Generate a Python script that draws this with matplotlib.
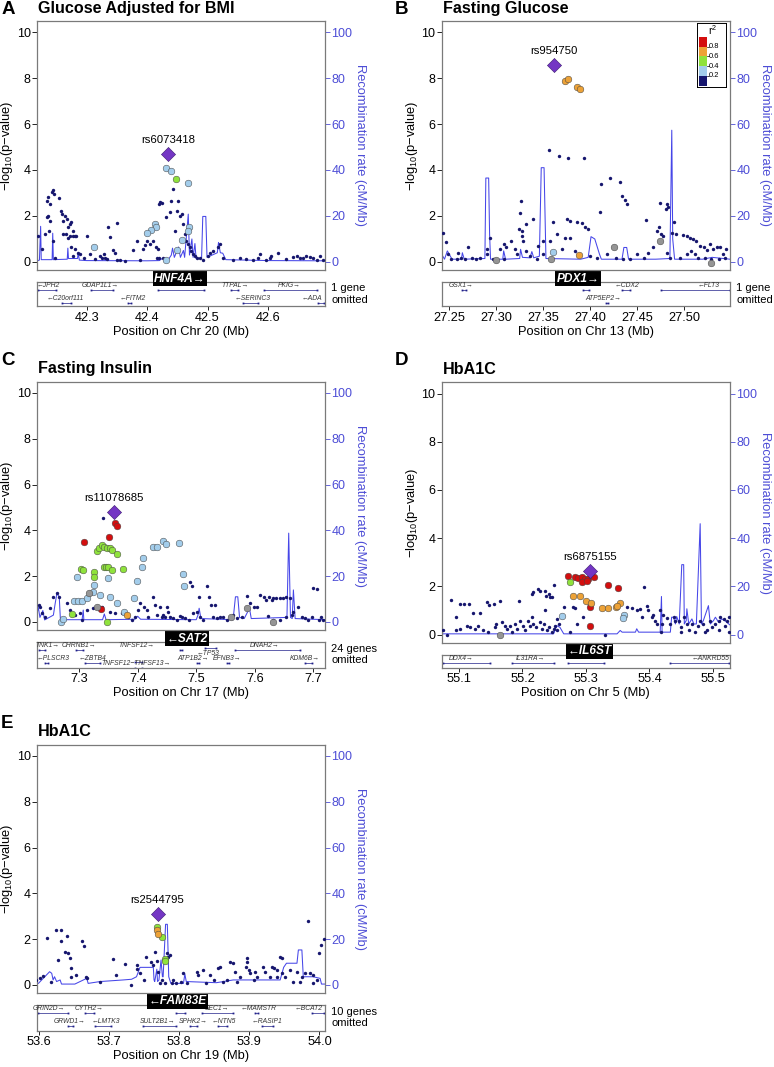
import matplotlib
matplotlib.use('Agg')
import matplotlib.pyplot as plt
import numpy as np

# ── data ────────────────────────────────────────────────────────────────────
# background SNPs (position Mb, -log10 p), r2 < 0.2
A_snps = [(42.219,1.14),(42.226,0.55),(42.231,1.21),(42.234,1.94),(42.235,2.67),(42.237,2.81),(42.240,2.52),(42.242,3.03),(42.245,3.13),(42.246,2.96),
          (42.237,2.01),(42.240,1.79),(42.238,1.36),(42.244,0.92),(42.248,0.19),(42.255,2.77),(42.257,2.20),(42.259,2.08),(42.261,1.79),(42.264,2.01),
          (42.267,1.87),(42.270,1.50),(42.272,1.65),(42.275,1.72),(42.277,1.36),(42.261,1.21),(42.266,1.21),(42.270,1.03),(42.272,1.14),(42.278,1.12),
          (42.281,1.12),(42.283,1.12),(42.274,0.63),(42.281,0.55),(42.286,0.41),(42.289,0.34),(42.278,0.26),(42.295,0.19),(42.301,1.12),(42.306,0.34),
          (42.314,0.12),(42.322,0.26),(42.325,0.19),(42.328,0.34),(42.330,0.19),(42.333,0.12),(42.336,1.50),(42.339,1.09),(42.344,0.51),(42.347,0.41),
          (42.350,0.07),(42.351,1.69),(42.355,0.07),(42.363,0.04),(42.377,0.51),(42.383,0.92),(42.388,0.07),(42.394,0.55),(42.396,0.74),(42.399,0.92),
          (42.405,0.77),(42.410,0.92),(42.414,0.63),(42.418,0.55),(42.421,2.61),(42.424,2.57),(42.419,2.52),(42.416,0.19),(42.420,0.19),(42.427,0.19),
          (42.432,1.94),(42.438,2.16),(42.440,2.67),(42.443,3.18),(42.446,1.36),(42.449,2.23),(42.451,2.67),(42.454,2.01),(42.457,2.08),(42.460,1.65),
          (42.462,1.21),(42.465,0.92),(42.468,0.77),(42.471,0.63),(42.473,0.48),(42.476,0.34),(42.479,0.26),(42.482,0.19),(42.487,0.19),(42.493,0.07),
          (42.501,0.26),(42.504,0.41),(42.509,0.48),(42.517,0.63),(42.520,0.80),(42.526,0.19),(42.542,0.07),(42.553,0.19),(42.564,0.12),(42.575,0.07),
          (42.583,0.19),(42.586,0.34),(42.597,0.07),(42.603,0.19),(42.605,0.26),(42.616,0.41),(42.630,0.12),(42.641,0.22),(42.647,0.26),(42.652,0.19),
          (42.658,0.19),(42.663,0.26),(42.669,0.22),(42.674,0.19),(42.680,0.07),(42.685,0.26),(42.691,0.07)]
# LD-coloured SNPs (position, -log10 p, r2 class; -1 = no LD info)
A_ld = [(42.432,4.10,0.3),(42.439,3.95,0.3),(42.468,3.45,0.3),(42.447,3.59,0.5),(42.413,1.65,0.3),(42.415,1.50,0.3),(42.406,1.38,0.3),
        (42.399,1.25,0.3),(42.469,1.50,0.3),(42.468,1.36,0.3),(42.457,0.96,0.3),(42.449,0.52,0.3),(42.432,0.07,0.3),(42.312,0.63,0.3)]
A_lead = (42.435, 4.71, 'rs6073418')
A_rec = [(42.218,0.5),(42.222,0.8),(42.224,15.5),(42.225,1.0),(42.243,1.0),(42.244,12.5),(42.245,1.0),(42.268,1.2),(42.269,6.0),(42.270,1.5),
         (42.285,1.5),(42.286,4.0),(42.288,0.8),(42.300,0.6),(42.400,0.5),(42.420,0.6),(42.425,1.5),(42.435,1.0),(42.440,3.0),(42.442,6.0),
         (42.445,2.0),(42.452,6.5),(42.455,2.0),(42.460,5.0),(42.462,2.0),(42.468,20.8),(42.470,3.0),(42.474,10.0),(42.476,2.0),(42.479,8.0),
         (42.481,1.5),(42.490,1.5),(42.492,19.8),(42.497,19.8),(42.499,2.0),(42.516,4.0),(42.518,8.5),(42.521,4.0),(42.525,3.8),(42.530,1.0),
         (42.600,0.6),(42.694,0.5)]
# genes: name, start, end, strand, label centre, label row, gene row
A_genes = [('JPH2',42.219,42.250,-1,42.237,0,0),('GDAP1L1',42.308,42.344,1,42.322,0,0),('TTPAL',42.539,42.550,1,42.545,0,0),
           ('PKIG',42.594,42.680,1,42.635,0,0),('C20orf111',42.259,42.274,-1,42.265,1,1),('FITM2',42.369,42.374,-1,42.377,1,1),
           ('SERINC3',42.559,42.583,-1,42.575,1,1),('ADA',42.682,42.692,-1,42.672,1,1)]
A_focus = ('HNF4A',42.418,42.494,1,42.454)

B_snps = [(27.356,4.85),(27.367,4.61),(27.377,4.50),(27.393,4.50),(27.412,3.40),(27.421,3.64),(27.432,3.47),(27.434,2.89),(27.437,2.70),(27.439,2.52),
          (27.411,2.16),(27.460,1.84),(27.474,2.55),(27.482,2.52),(27.481,2.30),(27.483,2.41),(27.326,2.67),(27.325,2.11),(27.361,1.72),(27.375,1.87),
          (27.379,1.79),(27.386,1.72),(27.391,1.68),(27.395,1.50),(27.398,1.43),(27.365,1.21),(27.373,1.06),(27.379,1.03),(27.339,1.87),(27.332,1.65),
          (27.327,1.36),(27.328,1.14),(27.329,0.92),(27.324,1.43),(27.293,1.06),(27.290,0.55),(27.270,0.67),(27.259,0.41),(27.247,0.86),(27.243,1.28),
          (27.258,0.12),(27.263,0.19),(27.279,0.12),(27.290,0.34),(27.304,0.55),(27.308,0.77),(27.311,0.63),(27.316,0.92),(27.320,0.55),(27.322,0.34),
          (27.332,0.48),(27.336,0.26),(27.343,0.12),(27.350,0.34),(27.345,0.70),(27.350,0.92),(27.357,0.92),(27.370,0.55),(27.384,0.48),(27.400,0.26),
          (27.407,0.19),(27.418,0.34),(27.428,0.19),(27.435,0.12),(27.442,0.12),(27.450,0.34),(27.457,0.19),(27.462,0.41),(27.467,0.63),(27.471,1.36),
          (27.473,1.50),(27.475,1.21),(27.478,1.14),(27.487,1.28),(27.489,1.72),(27.492,1.21),(27.499,1.18),(27.503,1.14),(27.506,1.06),(27.510,0.99),
          (27.513,0.92),(27.517,0.70),(27.521,0.63),(27.524,0.51),(27.528,0.77),(27.531,0.55),(27.535,0.63),(27.538,0.66),(27.542,0.34),(27.545,0.55),
          (27.512,0.34),(27.515,0.19),(27.522,0.19),(27.529,0.12),(27.537,0.12),(27.544,0.19),(27.482,0.41),(27.485,0.19),(27.496,0.19),(27.503,0.34),
          (27.508,0.48),(27.249,0.34),(27.252,0.12),(27.267,0.12),(27.274,0.19),(27.283,0.16),(27.297,0.12),(27.308,0.12)]
B_ld = [(27.373,7.87,0.7),(27.377,7.94,0.7),(27.386,7.62,0.7),(27.389,7.51,0.7),(27.388,0.31,0.7),(27.361,0.45,0.3),
        (27.300,0.07,-1),(27.358,0.12,-1),(27.425,0.66,-1),(27.474,0.92,-1),(27.529,-0.03,-1)]
B_lead = (27.362, 8.56, 'rs954750')
B_rec = [(27.242,1.0),(27.243,2.6),(27.245,1.2),(27.248,4.8),(27.253,1.2),(27.263,1.2),(27.264,4.0),(27.266,1.2),(27.288,1.5),(27.289,36.5),
         (27.292,36.5),(27.293,12.0),(27.294,1.2),(27.307,1.2),(27.308,4.8),(27.310,1.2),(27.325,1.5),(27.326,5.5),(27.328,2.0),(27.336,1.8),
         (27.338,4.5),(27.340,1.8),(27.346,2.5),(27.348,41.0),(27.351,41.0),(27.353,1.5),(27.390,1.2),(27.398,2.0),(27.401,11.0),(27.405,10.0),
         (27.410,3.4),(27.412,1.2),(27.434,1.2),(27.436,6.3),(27.439,6.3),(27.441,1.2),(27.470,1.2),(27.485,1.5),(27.487,57.3),(27.488,10.0),
         (27.490,1.2),(27.520,1.2),(27.530,2.0),(27.549,1.2)]
B_genes = [('GSX1',27.264,27.268,1,27.263,0,0),('CDX2',27.434,27.442,-1,27.439,0,0),('FLT3',27.476,27.549,-1,27.526,0,0),
           ('ATP5EP2',27.417,27.419,1,27.414,1,1)]
B_focus = ('PDX1',27.392,27.399,1,27.387)

C_snps = [(7.340,4.56),(7.231,0.74),(7.233,0.67),(7.237,0.38),(7.242,0.23),(7.250,0.60),(7.256,1.11),(7.262,1.25),(7.265,1.11),(7.279,0.82),
          (7.285,0.52),(7.293,0.31),(7.302,0.38),(7.305,0.09),(7.313,0.52),(7.324,0.60),(7.336,0.52),(7.339,0.67),(7.353,0.45),(7.361,0.38),
          (7.373,0.38),(7.384,0.23),(7.390,0.09),(7.396,0.23),(7.401,0.52),(7.404,0.82),(7.410,0.67),(7.416,0.52),(7.418,0.23),(7.427,1.11),
          (7.430,0.74),(7.433,0.31),(7.438,0.67),(7.441,0.23),(7.444,0.31),(7.447,0.23),(7.450,0.67),(7.452,0.45),(7.455,0.23),(7.461,0.16),
          (7.467,0.09),(7.472,0.26),(7.475,0.23),(7.481,0.16),(7.487,0.09),(7.489,1.76),(7.492,1.55),(7.495,0.38),(7.501,0.45),(7.504,1.11),
          (7.507,0.23),(7.512,0.09),(7.519,1.57),(7.522,1.11),(7.525,0.74),(7.529,0.23),(7.532,0.74),(7.535,0.16),(7.541,0.23),(7.546,0.23),
          (7.552,0.09),(7.563,0.31),(7.569,0.16),(7.578,0.23),(7.587,1.15),(7.592,0.82),(7.598,0.67),(7.603,0.67),(7.609,1.18),(7.615,1.11),
          (7.620,0.96),(7.625,1.11),(7.629,0.96),(7.632,1.03),(7.637,1.06),(7.643,1.06),(7.649,1.06),(7.654,1.11),(7.660,1.03),(7.623,0.26),
          (7.632,0.09),(7.643,0.09),(7.654,0.23),(7.663,0.31),(7.666,0.45),(7.674,0.67),(7.680,0.23),(7.686,0.16),(7.691,0.09),(7.697,0.20),
          (7.700,1.47),(7.706,1.43),(7.709,0.09),(7.714,0.23),(7.717,0.09)]
C_ld = [(7.361,4.34,0.9),(7.365,4.21,0.9),(7.351,3.73,0.9),(7.309,3.48,0.9),(7.338,0.55,0.9),
        (7.330,3.10,0.5),(7.334,3.22,0.5),(7.339,3.37,0.5),(7.343,3.29,0.5),(7.347,3.22,0.5),(7.353,3.22,0.5),(7.356,3.15,0.5),
        (7.364,2.96,0.5),(7.303,2.30,0.5),(7.307,2.27,0.5),(7.326,2.20,0.5),(7.326,1.98,0.5),(7.342,2.42,0.5),(7.346,2.42,0.5),
        (7.350,2.39,0.5),(7.356,2.27,0.5),(7.375,2.30,0.5),(7.287,0.34,0.5),(7.348,0.01,0.5),
        (7.296,1.98,0.3),(7.291,0.92,0.3),(7.298,0.92,0.3),(7.305,0.92,0.3),(7.313,1.03,0.3),(7.323,1.33,0.3),(7.326,1.62,0.3),
        (7.336,1.18,0.3),(7.352,1.11,0.3),(7.349,1.91,0.3),(7.364,0.82,0.3),(7.376,0.45,0.3),(7.269,0.01,0.3),(7.273,0.15,0.3),
        (7.393,1.03,0.3),(7.398,1.81,0.3),(7.407,2.42,0.3),(7.409,2.81,0.3),(7.427,3.29,0.3),(7.433,3.29,0.3),(7.444,3.54,0.3),
        (7.448,3.40,0.3),(7.470,3.44,0.3),(7.478,2.10,0.3),(7.479,1.57,0.3),
        (7.316,1.25,-1),(7.330,0.67,-1),(7.559,0.20,-1),(7.587,0.60,-1),(7.631,0.01,-1),(7.381,0.31,0.7)]
C_lead = (7.359, 4.80, 'rs11078685')
C_rec = [(7.228,3.0),(7.230,6.7),(7.233,2.0),(7.238,5.0),(7.241,0.9),(7.256,3.0),(7.259,8.0),(7.262,12.5),(7.266,11.0),(7.268,1.0),
         (7.305,1.0),(7.307,5.2),(7.308,1.0),(7.340,1.0),(7.343,3.5),(7.346,1.0),(7.395,1.2),(7.400,2.5),(7.405,1.2),(7.500,1.0),
         (7.503,3.0),(7.505,6.0),(7.508,1.5),(7.563,1.0),(7.567,11.0),(7.571,11.0),(7.574,2.0),(7.582,1.5),(7.591,6.0),(7.594,1.5),
         (7.655,2.0),(7.658,38.8),(7.661,2.0),(7.664,1.5),(7.666,14.0),(7.669,1.5),(7.720,1.0)]
C_genes = [('TNK1',7.232,7.241,1,7.245,0,0),('CHRNB1',7.295,7.307,1,7.300,0,0),('TNFSF12',7.396,7.407,1,7.398,0,0.9),
           ('TP53',7.515,7.534,-1,7.521,0.6,-0.1),('DNAH2',7.566,7.677,1,7.617,0,0),('PLSCR3',7.242,7.247,-1,7.256,1,1),
           ('ZBTB4',7.310,7.336,-1,7.322,1,1),('TNFSF12\u2212TNFSF13',7.396,7.407,1,7.397,1.35,1.35),('ATP1B2',7.501,7.505,1,7.495,1,1),
           ('EFNB3',7.552,7.556,1,7.552,1,1),('KDM6B',7.686,7.697,1,7.686,1,1)]
C_focus = ('SAT2',7.472,7.475,-1,7.484)

D_snps = [(55.088,1.44),(55.095,0.72),(55.101,1.25),(55.108,1.27),(55.115,1.27),(55.122,0.89),(55.133,0.89),(55.144,1.34),(55.148,1.23),(55.155,1.27),
          (55.164,1.39),(55.194,1.39),(55.215,1.69),(55.216,1.76),(55.224,1.90),(55.228,1.79),(55.236,1.80),(55.237,1.62),(55.241,1.69),(55.244,1.55),
          (55.246,1.55),(55.249,2.04),(55.265,1.14),(55.279,1.16),(55.283,1.11),(55.296,0.72),(55.286,0.44),(55.215,0.72),(55.235,1.00),(55.254,0.65),
          (55.075,0.17),(55.081,0.00),(55.096,0.17),(55.102,0.24),(55.112,0.37),(55.117,0.30),(55.125,0.24),(55.130,0.37),(55.138,0.17),(55.146,0.10),
          (55.157,0.30),(55.159,0.44),(55.167,0.51),(55.173,0.37),(55.175,0.24),(55.180,0.37),(55.183,0.10),(55.188,0.44),(55.191,0.24),(55.196,0.58),
          (55.201,0.37),(55.204,0.17),(55.209,0.58),(55.212,0.37),(55.217,0.44),(55.222,0.30),(55.228,0.51),(55.230,0.24),(55.234,0.44),(55.238,0.17),
          (55.242,0.30),(55.246,0.10),(55.249,0.24),(55.252,0.37),(55.254,0.17),(55.257,0.44),(55.275,0.10),(55.330,0.00),
          (55.364,1.14),(55.372,1.11),(55.380,1.00),(55.385,1.07),(55.388,0.72),(55.396,1.20),(55.398,1.02),(55.391,1.99),(55.404,0.72),(55.406,0.83),
          (55.409,0.58),(55.412,0.44),(55.416,1.00),(55.420,0.44),(55.422,0.83),(55.427,0.69),(55.433,0.44),(55.438,0.72),(55.441,0.58),(55.446,0.58),
          (55.450,0.30),(55.454,0.72),(55.459,0.44),(55.462,0.17),(55.467,0.44),(55.472,0.10),(55.477,0.37),(55.480,0.58),(55.485,0.44),(55.491,0.17),
          (55.496,0.58),(55.498,0.30),(55.504,0.44),(55.509,0.55),(55.512,0.72),(55.517,0.65),(55.519,0.37),(55.522,0.58),(55.525,0.72),(55.526,0.10),
          (55.509,0.17),(55.488,0.10),(55.449,0.10),(55.418,0.10)]
D_ld = [(55.271,2.42,0.9),(55.283,2.38,0.9),(55.288,2.35,0.9),(55.293,2.38,0.9),(55.299,2.31,0.9),(55.304,2.31,0.9),(55.312,2.38,0.9),
        (55.293,2.17,0.9),(55.301,2.22,0.9),(55.335,2.04,0.9),(55.350,1.94,0.9),(55.306,1.14,0.9),(55.306,0.37,0.9),(55.275,2.17,0.5),
        (55.279,1.62,0.7),(55.291,1.58,0.7),(55.300,1.41,0.7),(55.308,1.30,0.7),(55.325,1.09,0.7),(55.335,1.11,0.7),(55.348,1.14,0.7),
        (55.354,1.30,0.7),(55.349,1.20,0.7),(55.263,0.75,0.3),(55.360,0.82,0.3),(55.359,0.69,0.3),(55.164,0.00,-1)]
D_lead = (55.307, 2.63, 'rs6875155')
D_rec = [(55.073,0.3),(55.249,0.3),(55.254,3.7),(55.259,3.0),(55.265,0.3),(55.349,0.3),(55.354,1.7),(55.357,1.0),(55.378,1.0),(55.380,2.4),
         (55.383,1.0),(55.417,1.0),(55.419,15.8),(55.420,1.0),(55.433,1.0),(55.435,7.2),(55.438,7.2),(55.441,4.4),(55.443,7.5),(55.447,4.4),
         (55.451,29.0),(55.454,29.0),(55.455,4.4),(55.458,5.8),(55.459,10.7),(55.462,4.4),(55.467,6.5),(55.470,4.4),(55.474,4.4),(55.480,46.0),
         (55.482,4.4),(55.485,5.8),(55.493,12.0),(55.496,4.4),(55.501,5.8),(55.504,7.2),(55.509,5.1),(55.514,6.5),(55.519,5.8),(55.525,4.4),(55.527,4.0)]
D_genes = [('DDX4',55.075,55.149,1,55.104,0,0),('IL31RA',55.183,55.249,1,55.212,0,0),('ANKRD55',55.433,55.525,-1,55.496,0,0)]
D_focus = ('IL6ST',55.272,55.328,-1,55.306)

E_snps = [(53.596,0.22),(53.601,0.29),(53.606,0.39),(53.611,2.04),(53.617,0.15),(53.624,2.41),(53.631,2.41),(53.631,1.92),(53.627,1.09),(53.637,1.46),
          (53.640,2.16),(53.641,1.38),(53.644,1.17),(53.646,0.73),(53.645,0.36),(53.653,0.44),(53.661,1.94),(53.664,1.71),(53.667,0.36),(53.669,0.29),
          (53.687,0.15),(53.706,1.12),(53.710,0.44),(53.722,0.90),(53.731,0.00),(53.739,0.87),(53.740,0.69),(53.744,0.51),(53.749,0.22),(53.753,1.24),
          (53.759,1.02),(53.763,0.87),(53.765,1.46),(53.768,1.06),(53.770,0.58),(53.772,0.07),(53.776,0.22),(53.780,0.07),(53.782,1.38),(53.784,1.24),
          (53.787,1.31),(53.789,0.07),(53.791,0.22),(53.796,0.10),(53.803,0.15),(53.806,0.51),(53.811,0.07),(53.825,0.58),(53.827,0.44),(53.834,0.66),
          (53.838,0.07),(53.844,0.44),(53.849,0.22),(53.856,0.73),(53.858,0.80),(53.863,0.15),(53.868,0.22),(53.873,1.02),(53.877,0.98),(53.880,0.58),
          (53.882,0.15),(53.887,0.36),(53.896,1.17),(53.897,1.02),(53.895,0.80),(53.899,0.66),(53.901,0.51),(53.906,0.22),(53.908,0.58),(53.911,0.36),
          (53.920,0.80),(53.922,0.58),(53.930,0.36),(53.932,0.80),(53.935,0.73),(53.939,0.66),(53.940,0.36),(53.944,1.24),(53.946,1.17),(53.946,0.51),
          (53.951,0.36),(53.958,0.66),(53.963,0.15),(53.968,0.58),(53.972,0.15),(53.975,0.36),(53.980,0.51),(53.984,2.81),(53.987,0.51),(53.991,0.44),
          (53.999,1.38),(54.002,1.75),(54.006,2.00),(53.991,0.07),(53.996,0.22)]
E_ld = [(53.768,2.52,0.5),(53.775,2.08,0.5),(53.780,1.12,0.5),(53.780,1.05,0.5),(53.768,2.38,0.7),(53.769,2.23,0.7)]
E_lead = (53.769, 3.10, 'rs2544795')
E_rec = [(53.597,0.7),(53.599,0.7),(53.615,5.8),(53.618,5.1),(53.620,2.2),(53.622,3.6),(53.625,1.5),(53.630,2.2),(53.632,0.4),(53.651,0.4),
         (53.668,2.9),(53.670,0.7),(53.687,1.5),(53.720,2.2),(53.732,2.5),(53.739,3.6),(53.744,7.7),(53.763,7.7),(53.764,2.2),(53.765,1.5),
         (53.768,6.9),(53.769,1.5),(53.771,2.2),(53.774,10.9),(53.776,3.6),(53.777,3.6),(53.7805,26.5),(53.783,26.5),(53.785,3.6),(53.788,0.7),
         (53.806,0.7),(53.808,4.8),(53.810,1.5),(53.853,1.0),(53.877,2.2),(53.915,2.2),(53.944,2.2),(53.949,7.7),(53.953,9.5),(53.968,9.5),
         (53.970,15.3),(53.975,15.3),(53.977,3.6),(53.991,3.6),(54.001,2.9),(54.003,0.4),(54.008,0.4)]
E_genes = [('GRIN2D',53.599,53.641,1,53.614,0,0),('CYTH2',53.665,53.678,1,53.671,0,0),('SEC1',53.832,53.877,1,53.854,0,0),
           ('MAMSTR',53.908,53.913,-1,53.913,0,0),('BCAT2',53.989,54.006,-1,53.985,0,0),('GRWD1',53.641,53.649,1,53.644,1,1),
           ('LMTK3',53.680,53.703,-1,53.696,1,1),('SULT2B1',53.748,53.796,1,53.769,1,1),('SPHK2',53.815,53.825,1,53.820,1,1),
           ('NTN5',53.856,53.868,-1,53.864,1,1),('RASIP1',53.918,53.934,-1,53.925,1,1)]
E_focus = ('FAM83E',53.796,53.808,-1,53.798)

r2_bounds = [0.0, 0.2, 0.4, 0.6, 0.8, 1.0]

# ── style ───────────────────────────────────────────────────────────────────
plt.rcParams['font.family'] = ['Liberation Sans', 'DejaVu Sans']
plt.rcParams['mathtext.default'] = 'regular'

NAVY   = '#16166e'
LD_COL = ['#16166e', '#a3cdeb', '#8fe23c', '#eda237', '#d40e0e']
GRAY   = '#959595'
LEAD   = '#7436c4'
REC    = '#4646e8'
BLUE   = '#4d4dd6'
BOX    = '#7a7a7a'
GENE   = '#20208a'

W, H = 774, 1067
fig = plt.figure(figsize=(W / 100, H / 100), dpi=100)

def px(l, t, r, b):
    return [l / W, 1 - b / H, (r - l) / W, (b - t) / H]

def ld_colour(r2):
    if r2 < 0:
        return GRAY
    return LD_COL[min(int(r2 / 0.2), 4)]

def arrow_name(name, strand):
    return name + '\u2192' if strand > 0 else '\u2190' + name

def panel(letter, title, main_box, gene_box, xlim, xticks, xticklabels, chrom,
          snps, ld, lead, rec, genes, focus, omitted, title_xy, letter_xy):
    ax = fig.add_axes(px(*main_box))
    ax2 = ax.twinx()
    ax.set_zorder(ax2.get_zorder() + 1)
    ax.patch.set_visible(False)

    rp, rr = np.array(rec).T
    ax2.plot(rp, rr, color=REC, lw=0.75)
    ax2.set_ylim(-3.5, 104.8)
    ax2.set_yticks([0, 20, 40, 60, 80, 100])
    ax2.tick_params(axis='y', colors=BLUE, labelsize=9, length=3.5, width=0.6, pad=1)
    ax2.set_ylabel('Recombination rate (cM/Mb)', color=BLUE, fontsize=9.3,
                   rotation=270, va='bottom', labelpad=1)
    for s in ax2.spines.values():
        s.set_visible(False)

    sp, sl = np.array(snps).T
    ax.scatter(sp, sl, s=6, color=NAVY, lw=0, zorder=3)
    for p, l, r2 in ld:
        ax.scatter(p, l, s=23, color=ld_colour(r2), edgecolor='#444444', lw=0.35, zorder=4)
    ax.scatter(lead[0], lead[1], s=52, marker='D', color=LEAD, edgecolor='#3a1a70', lw=0.4, zorder=5)
    ax.text(lead[0], lead[1] + 0.6, lead[2], fontsize=8.2, ha='center', va='center')

    ax.set_xlim(*xlim)
    ax.set_ylim(-0.35, 10.48)
    ax2.set_xlim(*xlim)
    ax.set_xticks([])
    ax.set_yticks([0, 2, 4, 6, 8, 10])
    ax.tick_params(axis='y', labelsize=9, length=3.5, width=0.6, pad=1)
    ax.set_ylabel('\u2212log$_{10}$(p\u2212value)', fontsize=9.3, labelpad=1)
    for s in ax.spines.values():
        s.set_color(BOX)
        s.set_linewidth(0.9)

    # gene track
    gh = gene_box[3] - gene_box[1]
    gx = fig.add_axes(px(*gene_box))
    gx.set_xlim(*xlim)
    gx.set_ylim(gh, 0)
    gx.set_yticks([])
    gx.set_xticks(xticks)
    gx.set_xticklabels(xticklabels)
    gx.tick_params(axis='x', labelsize=9.2, length=3, width=0.6, pad=1)
    gx.set_xlabel(f'Position on Chr {chrom} (Mb)', fontsize=9.3, labelpad=1.5)
    for s in gx.spines.values():
        s.set_color(BOX)
        s.set_linewidth(0.9)
    for name, start, end, strand, lx, lrow, grow in genes:
        gy = 7.8 + 13.3 * grow
        ly = 3.2 + 13.3 * lrow
        gx.plot([start, end], [gy, gy], color=GENE, lw=0.5)
        gx.plot([start, end], [gy, gy], ls='none', marker='s', ms=1.3, color=GENE, mew=0)
        gx.text(lx, ly, arrow_name(name, strand), fontsize=4.9, style='italic',
                color='#333333', ha='center', va='center')
    fname, fs, fe, fstrand, flx = focus
    gx.plot([fs, fe], [7.8, 7.8], color=GENE, lw=0.5)
    gx.plot([fs, fe], [7.8, 7.8], ls='none', marker='s', ms=1.3, color=GENE, mew=0)
    gx.text(flx, -3.5, arrow_name(fname, fstrand), fontsize=8.6, weight='bold', style='italic',
            color='white', ha='center', va='center', clip_on=False,
            bbox=dict(boxstyle='square,pad=0.12', fc='black', ec='none'))
    if omitted:
        gx.text(1.022, 0.5, omitted, transform=gx.transAxes, fontsize=8,
                ha='left', va='center', linespacing=1.15)

    fig.text(letter_xy[0] / W, 1 - letter_xy[1] / H, letter, fontsize=13.5, weight='bold',
             ha='center', va='center')
    fig.text(title_xy[0] / W, 1 - title_xy[1] / H, title, fontsize=11.6, weight='bold',
             ha='left', va='center')
    return ax

panel('A', 'Glucose Adjusted for BMI', (37, 21, 325, 270), (37, 282, 325, 306),
      (42.218, 42.694), [42.3, 42.4, 42.5, 42.6], ['42.3', '42.4', '42.5', '42.6'], 20,
      A_snps, A_ld, A_lead, A_rec, A_genes, A_focus, '1 gene\nomitted', (37.5, 8.5), (8, 9))

axB = panel('B', 'Fasting Glucose', (441.7, 21, 730, 270), (441.7, 282, 730, 306),
            (27.242, 27.549), [27.25, 27.30, 27.35, 27.40, 27.45, 27.50],
            ['27.25', '27.30', '27.35', '27.40', '27.45', '27.50'], 13,
            B_snps, B_ld, B_lead, B_rec, B_genes, B_focus, '1 gene\nomitted', (443, 8.5), (402, 9))

panel('C', 'Fasting Insulin', (37, 382, 325, 630), (37, 642, 325, 667.5),
      (7.228, 7.720), [7.3, 7.4, 7.5, 7.6, 7.7], ['7.3', '7.4', '7.5', '7.6', '7.7'], 17,
      C_snps, C_ld, C_lead, C_rec, C_genes, C_focus, '24 genes\nomitted', (37.5, 369), (8, 361))

panel('D', 'HbA1C', (441.7, 382, 730, 643), (441.7, 655, 730, 667.7),
      (55.0727, 55.527), [55.1, 55.2, 55.3, 55.4, 55.5], ['55.1', '55.2', '55.3', '55.4', '55.5'], 5,
      D_snps, D_ld, D_lead, D_rec, D_genes, D_focus, None, (443, 369), (402, 361))

panel('E', 'HbA1C', (37, 745, 325, 993), (37, 1005, 325, 1030.5),
      (53.597, 54.008), [53.6, 53.7, 53.8, 53.9, 54.0], ['53.6', '53.7', '53.8', '53.9', '54.0'], 19,
      E_snps, E_ld, E_lead, E_rec, E_genes, E_focus, '10 genes\nomitted', (37.5, 732), (7, 724))

# r2 legend in panel B
leg = axB.inset_axes([0.885, 0.735, 0.1, 0.255])
leg.set_xlim(0, 1)
leg.set_ylim(0, 1)
leg.set_xticks([])
leg.set_yticks([])
for s in leg.spines.values():
    s.set_linewidth(0.7)
for i in range(5):
    lo, hi = r2_bounds[i], r2_bounds[i + 1]
    leg.bar(0.22, (hi - lo) * 0.77, bottom=0.02 + lo * 0.77, width=0.27,
            color=LD_COL[i], edgecolor='none')
for b in r2_bounds[1:-1]:
    yb = 0.02 + b * 0.77
    leg.plot([0.355, 0.41], [yb, yb], color='black', lw=0.5)
    leg.text(0.41, yb, f'{b:.1f}', fontsize=5.4, ha='left', va='center')
leg.text(0.55, 0.9, 'r$^2$', fontsize=7.5, ha='center', va='center')

fig.savefig('out.png', dpi=100)
